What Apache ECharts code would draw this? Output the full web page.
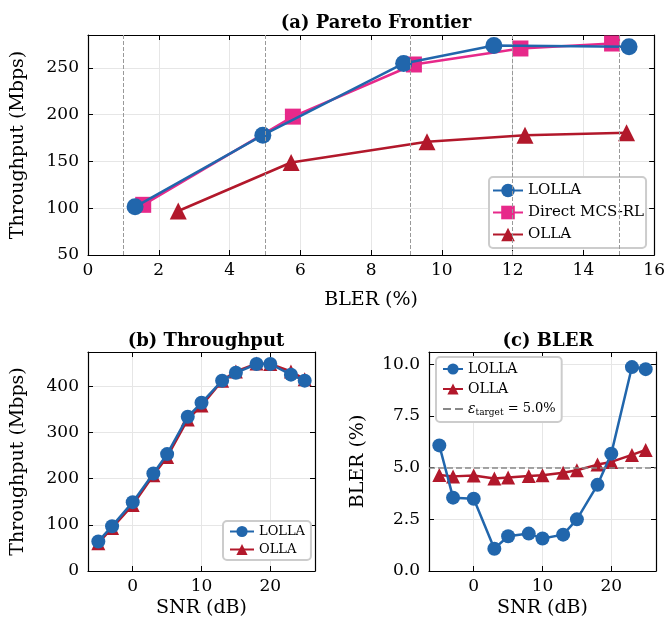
<!DOCTYPE html>
<html>
<head>
<meta charset="utf-8">
<script src="https://cdn.jsdelivr.net/npm/echarts@6/dist/echarts.min.js"></script>
<style>
  html, body { margin: 0; padding: 0; background: #fff; }
  #chart { width: 668px; height: 629px; }
</style>
</head>
<body>
<div id="chart"></div>
<script>
// (a) Pareto frontier: BLER (%) vs throughput (Mbps)
const paretoLollaBler = [1.33, 4.94, 8.92, 11.47, 15.29];
const paretoLollaTput = [101.5, 178, 254.6, 273.8, 272.4];
const paretoDirectBler = [1.56, 5.79, 9.21, 12.22, 14.81];
const paretoDirectTput = [103.6, 197.8, 253.5, 270.6, 275.9];
const paretoOllaBler = [2.55, 5.74, 9.58, 12.35, 15.22];
const paretoOllaTput = [97, 148.8, 171, 178, 180.7];
const targetLines = [1, 5, 9.1, 12, 15];

// (b), (c) per-SNR results
const snr = [-5, -3, 0, 3, 5, 8, 10, 13, 15, 18, 20, 23, 25];
const tputLolla = [64, 97, 149, 211, 253, 334, 364, 412, 429, 448, 448, 425, 412];
const tputOlla = [60, 93, 143, 207, 247, 328, 358, 412, 432, 449, 448, 432, 415];
const blerLolla = [6.08, 3.55, 3.5, 1.08, 1.68, 1.81, 1.57, 1.76, 2.5, 4.17, 5.68, 9.87, 9.77];
const blerOlla = [4.65, 4.58, 4.62, 4.48, 4.52, 4.6, 4.63, 4.76, 4.88, 5.15, 5.28, 5.62, 5.86];
const blerTarget = 5.0;

const snrTicks = [0, 10, 20];

const blue = '#2166ac', pink = '#e7298a', red = '#b2182b';
const font = 'DejaVu Serif';

function zip(xs, ys) { return xs.map((x, i) => [x, ys[i]]); }

var myChart = echarts.init(document.getElementById('chart'));

const axisLine = { show: true, onZero: false, lineStyle: { color: '#000', width: 1.2 } };
const tick = { show: true, inside: true, length: 5, lineStyle: { color: '#000', width: 1 } };
const split = { show: true, lineStyle: { color: '#e6e6e6', width: 1 } };
const label = { color: '#000', fontFamily: font, fontSize: 17 };
const nameStyle = { color: '#000', fontFamily: font, fontSize: 19 };
const titleStyle = { fontFamily: font, fontSize: 18, fontWeight: 'bold', color: '#000' };

function xPair(grid, min, max, interval, custom, name, gap) {
    let bottom = {
        type: 'value', gridIndex: grid, position: 'bottom', min: min, max: max,
        name: name, nameLocation: 'middle', nameGap: gap, nameTextStyle: nameStyle,
        axisLine: axisLine, axisTick: Object.assign({}, tick),
        axisLabel: Object.assign({ margin: 7 }, label),
        splitLine: Object.assign({}, split)
    };
    let top = {
        type: 'value', gridIndex: grid, position: 'top', min: min, max: max,
        axisLine: axisLine, axisTick: Object.assign({}, tick),
        axisLabel: { show: false }, splitLine: { show: false }
    };
    if (interval) { bottom.interval = interval; top.interval = interval; }
    if (custom) {
        bottom.axisTick.customValues = custom;
        bottom.axisLabel.customValues = custom;
        bottom.splitLine.customValues = custom;
        top.axisTick.customValues = custom;
    }
    return [bottom, top];
}

function yPair(grid, min, max, interval, name, gap, fmt) {
    let left = {
        type: 'value', gridIndex: grid, position: 'left', min: min, max: max, interval: interval,
        name: name, nameLocation: 'middle', nameGap: gap, nameTextStyle: nameStyle,
        axisLine: axisLine, axisTick: tick,
        axisLabel: Object.assign({ margin: 9, showMaxLabel: false, formatter: fmt }, label),
        splitLine: split
    };
    let right = {
        type: 'value', gridIndex: grid, position: 'right', min: min, max: max, interval: interval,
        axisLine: axisLine, axisTick: tick,
        axisLabel: { show: false }, splitLine: { show: false }
    };
    return [left, right];
}

const xAxes = [].concat(
    xPair(0, 0, 16, 2, null, 'BLER (%)', 36),
    xPair(1, -6.5, 26.5, null, snrTicks, 'SNR (dB)', 28),
    xPair(2, -6.5, 26.5, null, snrTicks, 'SNR (dB)', 28)
);
const yAxes = [].concat(
    yPair(0, 50, 285, 50, 'Throughput (Mbps)', 60),
    yPair(1, 0, 474, 100, 'Throughput (Mbps)', 60),
    yPair(2, 0, 10.6, 2.5, 'BLER (%)', 61, v => v.toFixed(1))
);

function lineSeries(name, data, color, symbol, size, xi, yi, z) {
    return {
        name: name, type: 'line', xAxisIndex: xi, yAxisIndex: yi, data: data,
        symbol: symbol, symbolSize: size, z: z,
        lineStyle: { color: color, width: 2.5 },
        itemStyle: { color: color }
    };
}

let ollaA = lineSeries('OLLA', zip(paretoOllaBler, paretoOllaTput), red, 'triangle', 17, 0, 0, 2);
ollaA.markLine = {
    silent: true, symbol: 'none', label: { show: false },
    lineStyle: { color: '#999', type: 'dashed', width: 1 },
    data: targetLines.map(v => ({ xAxis: v }))
};

const legendBase = {
    orient: 'vertical',
    borderColor: '#cccccc', borderWidth: 2, borderRadius: 4, backgroundColor: '#fff'
};

option = {
    backgroundColor: '#fff',
    animation: false,
    title: [
        { text: '(a) Pareto Frontier', left: 371, top: 9, textAlign: 'center', textStyle: titleStyle },
        { text: '(b) Throughput', left: 201, top: 327, textAlign: 'center', textStyle: titleStyle },
        { text: '(c) BLER', left: 543, top: 327, textAlign: 'center', textStyle: titleStyle }
    ],
    grid: [
        { left: 88, top: 35, width: 567, height: 220 },
        { left: 88, top: 352, width: 227, height: 219 },
        { left: 429, top: 352, width: 227, height: 219 }
    ],
    legend: [
        Object.assign({}, legendBase, {
            data: ['LOLLA', 'Direct MCS-RL', 'OLLA'], left: 489, top: 177,
            padding: [6, 2, 6, 3], itemGap: 7, itemWidth: 30, itemHeight: 17,
            textStyle: { color: '#000', fontFamily: font, fontSize: 15 }
        }),
        Object.assign({}, legendBase, {
            data: ['LOLLA', 'OLLA'], left: 223, top: 521, padding: [4, 6, 4, 6], itemGap: 5,
            itemWidth: 24, itemHeight: 14,
            textStyle: { color: '#000', fontFamily: font, fontSize: 13 }
        }),
        Object.assign({}, legendBase, {
            data: ['LOLLA', 'OLLA', { name: 'eps', itemStyle: { opacity: 0 } }],
            left: 436, top: 357, padding: [5, 6, 5, 6], itemGap: 6,
            itemWidth: 20, itemHeight: 14,
            formatter: n => n === 'eps' ? '{e|ε}{s|target}{n| = 5.0%}' : n,
            textStyle: {
                color: '#000', fontFamily: font, fontSize: 14,
                rich: {
                    e: { fontFamily: font, fontSize: 14, fontStyle: 'italic' },
                    s: { fontFamily: font, fontSize: 9, padding: [7, 0, 0, 0] },
                    n: { fontFamily: font, fontSize: 13 }
                }
            }
        })
    ],
    xAxis: xAxes,
    yAxis: yAxes,
    series: [
        ollaA,
        lineSeries('Direct MCS-RL', zip(paretoDirectBler, paretoDirectTput), pink, 'rect', 16, 0, 0, 3),
        lineSeries('LOLLA', zip(paretoLollaBler, paretoLollaTput), blue, 'circle', 17, 0, 0, 4),

        lineSeries('OLLA', zip(snr, tputOlla), red, 'triangle', 14, 2, 2, 2),
        lineSeries('LOLLA', zip(snr, tputLolla), blue, 'circle', 14, 2, 2, 3),

        {
            name: 'eps', type: 'line', xAxisIndex: 4, yAxisIndex: 4, data: [], symbol: 'none',
            lineStyle: { color: '#888', type: 'dashed', width: 1.5 }, itemStyle: { color: '#888' },
            markLine: {
                silent: true, symbol: 'none', label: { show: false },
                lineStyle: { color: '#888', type: 'dashed', width: 1.5 },
                data: [{ yAxis: blerTarget }]
            }
        },
        lineSeries('OLLA', zip(snr, blerOlla), red, 'triangle', 14, 4, 4, 2),
        lineSeries('LOLLA', zip(snr, blerLolla), blue, 'circle', 14, 4, 4, 3)
    ]
};

myChart.setOption(option);
</script>
</body>
</html>
